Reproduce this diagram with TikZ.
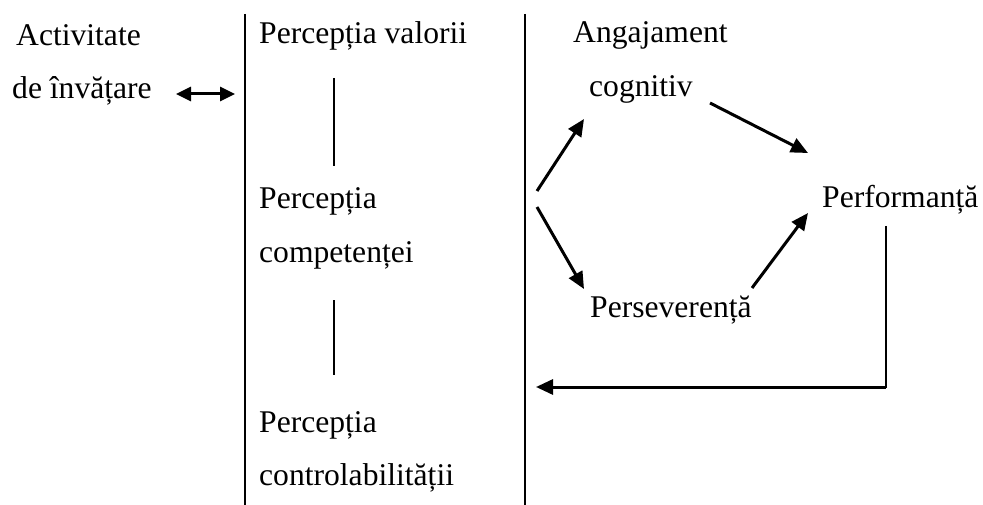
\documentclass[tikz,border=0pt]{standalone}
\usepackage{fontspec}
\setmainfont{Liberation Serif}
\usetikzlibrary{arrows.meta}
\begin{document}
\begin{tikzpicture}[x=1pt,y=-1pt,
  txt/.style={anchor=base west,inner sep=0pt,font=\fontsize{31.6}{38}\selectfont},
  sep/.style={line width=2.4pt},
  thin/.style={line width=2pt},
  arr/.style={line width=3pt,-{Triangle[length=17pt,width=15pt]}},
  darr/.style={line width=3pt,{Triangle[length=15pt,width=14pt]}-{Triangle[length=15pt,width=14pt]}}]
\useasboundingbox (0,0) rectangle (983,505);
% left texts
\node[txt] (act1) at (16,46) {Activitate};
\node[txt] (act2) at (12,99) {de învățare};
\coordinate (da1) at (176,94);
\coordinate (da2) at (235,94);
\draw[darr] (da1) -- (da2);
% separators
\coordinate (s1t) at (245,14); \coordinate (s1b) at (245,505);
\coordinate (s2t) at (525,14); \coordinate (s2b) at (525,505);
\draw[sep] (s1t) -- (s1b);
\draw[sep] (s2t) -- (s2b);
% middle column
\node[txt] (pv) at (259,44) {Percepția valorii};
\node[txt] (pc1) at (259,209) {Percepția};
\node[txt] (pc2) at (259,263) {competenței};
\node[txt] (pk1) at (259,432) {Percepția};
\node[txt] (pk2) at (259,485) {controlabilității};
\coordinate (l1t) at (334,78); \coordinate (l1b) at (334,166);
\coordinate (l2t) at (334,300); \coordinate (l2b) at (334,375);
\draw[thin] (l1t) -- (l1b);
\draw[thin] (l2t) -- (l2b);
% right column
\node[txt] (ang) at (573,43) {Angajament};
\node[txt] (cog) at (589,97) {cognitiv};
\node[txt] (perf) at (822,208) {Performanță};
\node[txt] (pers) at (590,317) {Perseverență};
\coordinate (o1) at (537,191);
\coordinate (o2) at (537,207);
\coordinate (c1) at (584,119);
\coordinate (c2) at (710,103);
\coordinate (c3) at (808,153);
\coordinate (p1) at (584,289);
\coordinate (p2) at (752,288);
\coordinate (p3) at (808,213);
\draw[arr] (o1) -- (c1);
\draw[arr] (c2) -- (c3);
\draw[arr] (o2) -- (p1);
\draw[arr] (p2) -- (p3);
\coordinate (r1) at (886,226);
\coordinate (r2) at (886,387);
\coordinate (r3) at (536,387);
\draw[line width=2.2pt,line join=miter] (r1) -- (r2) -- ([xshift=-2pt]r2);
\draw[arr,line join=miter] (r2) -- (r3);
\end{tikzpicture}
\end{document}
